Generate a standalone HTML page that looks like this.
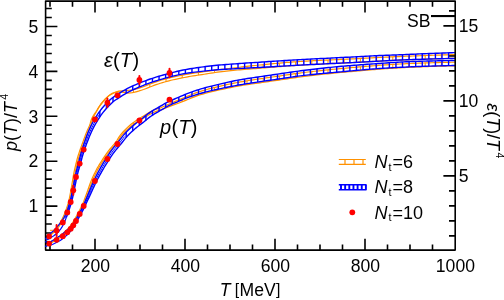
<!DOCTYPE html>
<html><head><meta charset="utf-8"><title>EoS</title>
<style>html,body{margin:0;padding:0;background:#fff}body{width:504px;height:300px;overflow:hidden;font-family:"Liberation Sans",sans-serif}</style>
</head><body>
<svg width="504" height="300" viewBox="0 0 504 300" style="display:block;will-change:transform">
<rect width="504" height="300" fill="#fff"/>
<defs><clipPath id="cp"><rect x="45.6" y="1.1" width="409.59999999999997" height="249.0"/></clipPath></defs>
<path d="M50 250.1v-5.6M50 1.1v5.6M72.5 250.1v-5.6M72.5 1.1v5.6M95 250.1v-11.3M95 1.1v11.3M117.5 250.1v-5.6M117.5 1.1v5.6M140 250.1v-5.6M140 1.1v5.6M162.5 250.1v-5.6M162.5 1.1v5.6M185 250.1v-11.3M185 1.1v11.3M207.5 250.1v-5.6M207.5 1.1v5.6M230 250.1v-5.6M230 1.1v5.6M252.5 250.1v-5.6M252.5 1.1v5.6M275 250.1v-11.3M275 1.1v11.3M297.5 250.1v-5.6M297.5 1.1v5.6M320 250.1v-5.6M320 1.1v5.6M342.5 250.1v-5.6M342.5 1.1v5.6M365 250.1v-11.3M365 1.1v11.3M387.5 250.1v-5.6M387.5 1.1v5.6M410 250.1v-5.6M410 1.1v5.6M432.5 250.1v-5.6M432.5 1.1v5.6M45.6 242.02h6.2M45.6 233.04h6.2M45.6 224.06h6.2M45.6 215.08h6.2M45.6 206.1h11.8M45.6 197.12h6.2M45.6 188.14h6.2M45.6 179.16h6.2M45.6 170.18h6.2M45.6 161.2h11.8M45.6 152.22h6.2M45.6 143.24h6.2M45.6 134.26h6.2M45.6 125.28h6.2M45.6 116.3h11.8M45.6 107.32h6.2M45.6 98.34h6.2M45.6 89.36h6.2M45.6 80.38h6.2M45.6 71.4h11.8M45.6 62.42h6.2M45.6 53.44h6.2M45.6 44.46h6.2M45.6 35.48h6.2M45.6 26.5h11.8M45.6 17.52h6.2M45.6 8.54h6.2M455.2 235.9h-6.2M455.2 220.9h-6.2M455.2 205.9h-6.2M455.2 190.9h-6.2M455.2 175.9h-11.8M455.2 160.9h-6.2M455.2 145.9h-6.2M455.2 130.9h-6.2M455.2 115.9h-6.2M455.2 100.9h-11.8M455.2 85.9h-6.2M455.2 70.9h-6.2M455.2 55.9h-6.2M455.2 40.9h-6.2M455.2 25.9h-11.8M455.2 10.9h-6.2" stroke="#000" stroke-width="1.6" fill="none"/>
<g clip-path="url(#cp)">
<path d="M48.13 235.25 L49.94 233.96 L51.67 232.58 L53.33 231.1 L54.9 229.54 L56.38 227.88 L57.76 226.15 L59.05 224.34 L60.24 222.47 L61.33 220.53 L62.34 218.54 L63.29 216.52 L64.19 214.47 L65.02 212.4 L65.81 210.3 L66.57 208.19 L67.27 206.07 L67.93 203.93 L68.54 201.77 L69.1 199.61 L69.57 197.43 L70 195.23 L70.39 193.02 L70.76 190.8 L71.16 188.58 L71.57 186.36 L71.96 184.15 L72.33 181.94 L72.67 179.72 L73.03 177.49 L73.41 175.26 L73.84 173.03 L74.29 170.82 L74.8 168.61 L75.33 166.42 L75.86 164.24 L76.36 162.05 L76.91 159.84 L77.52 157.66 L78.17 155.49 L78.87 153.34 L79.58 151.2 L80.33 149.06 L81.09 146.94 L81.87 144.82 L82.64 142.72 L83.39 140.59 L84.16 138.47 L84.94 136.36 L85.74 134.24 L86.58 132.14 L87.47 130.06 L88.44 127.99 L89.34 126 L90.06 123.91 L90.7 121.74 L91.38 119.56 L92.26 117.46 L93.38 115.48 L94.65 113.59 L95.94 111.72 L97.14 109.82 L98.28 107.87 L99.48 105.96 L100.78 104.11 L102.17 102.33 L103.62 100.6 L105.15 98.93 L106.76 97.35 L108.46 95.85 L110.3 94.53 L112.26 93.4 L114.35 92.5 L116.49 91.71 L118.72 91.05 L121 90.93 L123.27 90.81 L125.53 90.58 L127.75 90.33 L129.83 90.19 L132.01 89.9 L134.09 89.47 L136.26 88.92 L138.38 88.32 L140.51 87.66 L142.61 86.96 L144.68 86.2 L146.76 85.37 L148.85 84.53 L150.96 83.69 L153.11 82.89 L155.25 82.15 L157.39 81.43 L159.55 80.73 L161.72 80.05 L163.9 79.4 L166.09 78.8 L168.29 78.24 L170.5 77.7 L172.71 77.19 L174.92 76.71 L177.13 76.24 L179.34 75.78 L181.55 75.33 L183.77 74.89 L186 74.47 L188.23 74.08 L190.46 73.7 L192.7 73.35 L194.93 73.02 L197.16 72.7 L199.39 72.38 L201.62 72.06 L203.84 71.75 L206.07 71.43 L208.31 71.12 L210.54 70.81 L212.77 70.5 L215.01 70.21 L217.25 69.92 L219.5 69.65 L221.73 69.36 L223.97 69.07 L226.21 68.79 L228.45 68.52 L230.69 68.25 L232.93 67.99 L235.17 67.74 L237.41 67.48 L239.65 67.23 L241.89 66.97 L244.12 66.72 L246.36 66.46 L248.61 66.21 L250.85 65.97 L253.09 65.72 L255.33 65.48 L257.57 65.25 L259.81 65.01 L262.05 64.8 L264.29 64.58 L266.53 64.36 L268.78 64.15 L271.02 63.93 L273.26 63.71 L275.5 63.5 L277.75 63.29 L279.99 63.08 L282.24 62.87 L284.49 62.67 L286.73 62.47 L288.98 62.28 L291.23 62.1 L293.48 61.94 L295.73 61.78 L297.98 61.63 L300.24 61.48 L302.49 61.34 L304.74 61.21 L306.99 61.08 L309.24 60.96 L311.49 60.84 L313.74 60.72 L315.99 60.6 L318.24 60.49 L320.49 60.38 L322.74 60.27 L325 60.17 L327.25 60.06 L329.5 59.96 L331.75 59.86 L334 59.75 L336.25 59.65 L338.5 59.55 L340.74 59.44 L342.99 59.34 L345.24 59.23 L347.49 59.12 L349.74 59.01 L351.98 58.9 L354.23 58.78 L356.48 58.67 L358.73 58.55 L360.97 58.43 L363.22 58.31 L365.47 58.19 L367.72 58.07 L369.97 57.96 L372.22 57.84 L374.47 57.72 L376.72 57.6 L378.97 57.49 L381.22 57.37 L383.47 57.26 L385.72 57.15 L387.97 57.04 L390.22 56.93 L392.47 56.83 L394.72 56.72 L396.98 56.63 L399.23 56.53 L401.48 56.44 L403.73 56.35 L405.98 56.26 L408.23 56.17 L410.48 56.08 L412.73 55.99 L414.98 55.91 L417.23 55.82 L419.49 55.74 L421.74 55.65 L423.99 55.57 L426.24 55.49 L428.49 55.41 L430.74 55.34 L432.99 55.26 L435.25 55.19 L437.5 55.11 L439.75 55.04 L442 54.97 L444.25 54.9 L446.51 54.84 L448.76 54.77 L451.01 54.71 L453.26 54.65 L454.95 54.6" fill="none" stroke="#ff9100" stroke-width="1.2"/><path d="M48.8 236.24 L50.66 234.92 L52.45 233.5 L54.15 231.98 L55.77 230.36 L57.3 228.66 L58.72 226.87 L60.04 225.01 L61.27 223.08 L62.39 221.09 L63.42 219.07 L64.38 217.01 L65.29 214.94 L66.14 212.83 L66.94 210.72 L67.7 208.58 L68.41 206.43 L69.08 204.27 L69.7 202.09 L70.26 199.89 L70.75 197.67 L71.18 195.45 L71.57 193.22 L71.94 191 L72.34 188.79 L72.75 186.58 L73.15 184.36 L73.52 182.13 L73.86 179.9 L74.21 177.68 L74.59 175.47 L75.01 173.27 L75.47 171.07 L75.96 168.89 L76.5 166.71 L77.03 164.51 L77.53 162.31 L78.07 160.15 L78.67 157.99 L79.32 155.85 L80 153.71 L80.72 151.59 L81.46 149.46 L82.22 147.35 L83 145.24 L83.77 143.12 L84.52 141 L85.29 138.88 L86.06 136.77 L86.86 134.68 L87.69 132.6 L88.57 130.54 L89.52 128.53 L90.47 126.42 L91.14 124.22 L91.7 122.01 L92.3 119.86 L93.04 117.82 L94.01 115.85 L95.13 113.9 L96.29 111.94 L97.4 109.97 L98.54 108.02 L99.73 106.12 L101.02 104.29 L102.4 102.52 L103.84 100.8 L105.36 99.14 L106.96 97.57 L108.65 96.09 L110.46 94.78 L112.4 93.67 L114.45 92.78 L116.61 92.07 L118.76 91.76 L120.95 91.98 L123.2 92.34 L125.46 92.71 L127.74 93.06 L130.15 92.95 L132.44 92.64 L134.76 92.14 L136.96 91.56 L139.17 90.93 L141.34 90.24 L143.51 89.51 L145.65 88.71 L147.76 87.87 L149.85 87.02 L151.93 86.19 L154 85.42 L156.11 84.69 L158.24 83.97 L160.37 83.27 L162.5 82.6 L164.63 81.96 L166.78 81.37 L168.93 80.81 L171.11 80.28 L173.29 79.78 L175.48 79.29 L177.67 78.82 L179.87 78.36 L182.07 77.91 L184.27 77.47 L186.47 77.05 L188.68 76.66 L190.88 76.28 L193.09 75.93 L195.31 75.6 L197.54 75.27 L199.77 74.95 L202 74.6 L204.22 74.24 L206.45 73.88 L208.67 73.52 L210.89 73.17 L213.11 72.82 L215.33 72.48 L217.55 72.15 L219.77 71.84 L222 71.58 L224.24 71.34 L226.47 71.1 L228.71 70.88 L230.95 70.66 L233.19 70.44 L235.43 70.23 L237.67 70.02 L239.91 69.81 L242.15 69.62 L244.39 69.43 L246.63 69.24 L248.88 69.06 L251.12 68.88 L253.36 68.71 L255.61 68.53 L257.85 68.36 L260.09 68.2 L262.34 68.01 L264.58 67.83 L266.83 67.64 L269.07 67.45 L271.32 67.26 L273.56 67.08 L275.8 66.9 L278.05 66.71 L280.29 66.53 L282.53 66.36 L284.77 66.19 L287.02 66.02 L289.26 65.86 L291.5 65.69 L293.74 65.53 L295.98 65.37 L298.22 65.22 L300.46 65.07 L302.7 64.94 L304.95 64.8 L307.19 64.68 L309.44 64.55 L311.68 64.43 L313.93 64.31 L316.17 64.2 L318.42 64.09 L320.67 63.98 L322.92 63.87 L325.16 63.76 L327.41 63.66 L329.66 63.56 L331.91 63.45 L334.16 63.35 L336.41 63.25 L338.66 63.14 L340.91 63.04 L343.16 62.93 L345.41 62.83 L347.66 62.72 L349.91 62.61 L352.17 62.49 L354.42 62.38 L356.67 62.26 L358.91 62.14 L361.16 62.03 L363.41 61.91 L365.66 61.79 L367.91 61.67 L370.16 61.55 L372.41 61.43 L374.66 61.31 L376.9 61.2 L379.15 61.08 L381.4 60.97 L383.65 60.85 L385.89 60.74 L388.14 60.63 L390.39 60.53 L392.64 60.42 L394.88 60.32 L397.13 60.22 L399.38 60.13 L401.63 60.04 L403.87 59.94 L406.12 59.85 L408.37 59.76 L410.62 59.68 L412.87 59.59 L415.12 59.5 L417.37 59.42 L419.62 59.33 L421.87 59.25 L424.12 59.17 L426.37 59.09 L428.62 59.01 L430.86 58.94 L433.11 58.86 L435.36 58.78 L437.61 58.71 L439.86 58.64 L442.11 58.57 L444.36 58.5 L446.61 58.43 L448.86 58.37 L451.11 58.31 L453.36 58.24 L455.05 58.2" fill="none" stroke="#ff9100" stroke-width="1.2"/><path d="M101.2 103.55V104.05M117.4 91.37V91.89M133.6 89.59V92.42M149.8 84.15V87.04M166 78.82V81.58M182.2 75.2V77.88M198.4 72.52V75.15M214.6 70.26V72.59M230.8 68.24V70.67M247 66.39V69.21M263.2 64.68V67.94M279.4 63.13V66.61M295.6 61.79V65.4M311.8 60.82V64.42M328 60.03V63.63M344.2 59.28V62.88M360.4 58.46V62.07M376.6 57.61V61.21M392.8 56.81V60.41M409 56.14V59.74M425.2 55.53V59.13M441.4 54.99V58.59" fill="none" stroke="#ff9100" stroke-width="1"/>
<path d="M48.49 242.78 L50.4 241.87 L52.25 240.87 L54.08 239.78 L55.9 238.68 L57.69 237.54 L59.44 236.35 L61.12 235.08 L62.74 233.73 L64.29 232.29 L65.82 230.81 L67.33 229.32 L68.76 227.76 L70.12 226.15 L71.4 224.48 L72.58 222.73 L73.71 220.94 L74.73 219.11 L75.73 217.19 L76.81 215.34 L77.86 213.49 L78.87 211.62 L79.83 209.72 L80.77 207.81 L81.7 205.89 L82.62 203.96 L83.5 202.04 L84.25 200.07 L84.98 198.06 L85.72 196.05 L86.45 194.05 L87.17 192.04 L87.86 190.02 L88.54 187.99 L89.24 185.97 L89.95 183.95 L90.69 181.93 L91.49 179.92 L92.35 177.95 L93.26 176 L94.19 174.07 L95.14 172.15 L96.11 170.24 L97.09 168.32 L98.17 166.44 L99.29 164.61 L100.42 162.79 L101.57 160.98 L102.73 159.18 L103.9 157.39 L105.09 155.61 L106.3 153.83 L107.54 152.08 L108.83 150.35 L110.2 148.67 L111.6 147.04 L113.01 145.44 L114.41 143.83 L115.77 142.2 L116.94 140.51 L118.01 138.67 L119.11 136.79 L120.35 135.01 L121.72 133.34 L123.19 131.73 L124.71 130.17 L126.23 128.65 L127.79 127.17 L129.39 125.72 L131.05 124.32 L132.74 122.97 L134.49 121.69 L136.28 120.48 L138.11 119.33 L139.92 118.2 L141.75 117.07 L143.59 115.97 L145.39 114.86 L147.13 113.69 L148.96 112.47 L150.9 111.41 L152.89 110.47 L154.92 109.64 L157 108.95 L159.02 108.32 L160.98 107.6 L162.93 106.8 L164.88 105.96 L166.83 105.07 L168.79 104.18 L170.76 103.33 L172.73 102.48 L174.7 101.63 L176.66 100.79 L178.63 99.95 L180.6 99.14 L182.57 98.33 L184.54 97.5 L186.52 96.67 L188.5 95.83 L190.49 95.01 L192.49 94.21 L194.51 93.43 L196.54 92.68 L198.59 91.98 L200.64 91.32 L202.7 90.69 L204.77 90.09 L206.85 89.51 L208.93 88.95 L211.02 88.41 L213.1 87.88 L215.19 87.37 L217.28 86.86 L219.36 86.37 L221.45 85.88 L223.54 85.4 L225.64 84.93 L227.73 84.46 L229.83 84.01 L231.94 83.57 L234.04 83.14 L236.15 82.73 L238.26 82.32 L240.38 81.93 L242.5 81.56 L244.61 81.2 L246.73 80.85 L248.85 80.51 L250.97 80.17 L253.08 79.85 L255.2 79.52 L257.31 79.19 L259.42 78.87 L261.54 78.55 L263.66 78.24 L265.78 77.93 L267.89 77.63 L270.01 77.32 L272.13 77.02 L274.25 76.72 L276.36 76.42 L278.48 76.11 L280.59 75.81 L282.7 75.5 L284.81 75.18 L286.93 74.87 L289.04 74.55 L291.16 74.24 L293.28 73.93 L295.41 73.63 L297.54 73.34 L299.67 73.06 L301.79 72.78 L303.92 72.52 L306.04 72.26 L308.17 72 L310.3 71.75 L312.43 71.51 L314.56 71.27 L316.69 71.03 L318.82 70.79 L320.94 70.56 L323.07 70.34 L325.2 70.11 L327.33 69.9 L329.46 69.68 L331.59 69.47 L333.73 69.26 L335.86 69.05 L337.99 68.85 L340.12 68.65 L342.25 68.46 L344.38 68.26 L346.51 68.07 L348.64 67.88 L350.77 67.69 L352.9 67.5 L355.04 67.31 L357.17 67.13 L359.3 66.94 L361.43 66.76 L363.57 66.58 L365.7 66.41 L367.83 66.23 L369.97 66.06 L372.1 65.9 L374.24 65.73 L376.37 65.57 L378.5 65.42 L380.64 65.26 L382.77 65.1 L384.91 64.95 L387.04 64.8 L389.18 64.65 L391.32 64.51 L393.46 64.38 L395.6 64.24 L397.74 64.12 L399.88 64 L402.02 63.89 L404.15 63.79 L406.29 63.69 L408.43 63.59 L410.57 63.49 L412.71 63.4 L414.85 63.31 L416.99 63.23 L419.13 63.15 L421.27 63.07 L423.41 63 L425.55 62.93 L427.69 62.86 L429.83 62.8 L431.97 62.73 L434.1 62.67 L436.24 62.61 L438.38 62.55 L440.52 62.5 L442.66 62.45 L444.8 62.4 L446.94 62.35 L449.08 62.3 L451.22 62.26 L453.36 62.23 L454.97 62.2" fill="none" stroke="#ff9100" stroke-width="1.2"/><path d="M48.99 243.87 L50.94 242.94 L52.85 241.91 L54.7 240.82 L56.54 239.7 L58.35 238.55 L60.14 237.33 L61.87 236.02 L63.53 234.63 L65.12 233.16 L66.66 231.67 L68.19 230.15 L69.66 228.56 L71.06 226.9 L72.37 225.18 L73.59 223.39 L74.74 221.56 L75.8 219.66 L76.78 217.78 L77.85 215.94 L78.91 214.07 L79.94 212.18 L80.91 210.26 L81.85 208.33 L82.78 206.4 L83.7 204.47 L84.6 202.5 L85.38 200.48 L86.11 198.47 L86.84 196.46 L87.58 194.45 L88.3 192.43 L88.99 190.4 L89.68 188.38 L90.37 186.36 L91.08 184.35 L91.81 182.35 L92.59 180.39 L93.45 178.44 L94.35 176.52 L95.27 174.6 L96.21 172.68 L97.18 170.78 L98.14 168.89 L99.2 167.06 L100.31 165.24 L101.44 163.43 L102.58 161.63 L103.74 159.84 L104.91 158.05 L106.09 156.28 L107.28 154.51 L108.51 152.78 L109.78 151.09 L111.12 149.44 L112.5 147.84 L113.91 146.23 L115.32 144.6 L116.71 142.95 L117.96 141.14 L119.06 139.26 L120.12 137.43 L121.3 135.74 L122.63 134.12 L124.06 132.55 L125.55 131.03 L127.11 129.57 L128.68 128.16 L130.3 126.78 L131.96 125.46 L133.65 124.2 L135.38 123.01 L137.17 121.9 L139 120.82 L140.86 119.74 L142.69 118.65 L144.54 117.58 L146.39 116.47 L148.22 115.27 L149.96 114.15 L151.78 113.19 L153.69 112.32 L155.62 111.56 L157.6 110.94 L159.68 110.32 L161.74 109.6 L163.76 108.81 L165.75 108 L167.74 107.2 L169.72 106.43 L171.71 105.67 L173.71 104.93 L175.71 104.18 L177.72 103.44 L179.72 102.7 L181.73 101.93 L183.73 101.13 L185.71 100.32 L187.7 99.5 L189.68 98.69 L191.65 97.9 L193.63 97.12 L195.61 96.38 L197.59 95.67 L199.57 95.01 L201.58 94.39 L203.61 93.81 L205.65 93.24 L207.7 92.7 L209.76 92.17 L211.83 91.66 L213.9 91.17 L215.98 90.68 L218.06 90.21 L220.14 89.74 L222.22 89.29 L224.3 88.83 L226.39 88.39 L228.47 87.96 L230.56 87.54 L232.65 87.13 L234.74 86.74 L236.83 86.35 L238.93 85.98 L241.02 85.62 L243.12 85.28 L245.22 84.95 L247.32 84.63 L249.43 84.32 L251.54 84.02 L253.66 83.72 L255.77 83.42 L257.89 83.12 L260.01 82.82 L262.12 82.5 L264.24 82.19 L266.35 81.88 L268.46 81.57 L270.58 81.27 L272.69 80.96 L274.81 80.66 L276.93 80.35 L279.04 80.05 L281.16 79.74 L283.28 79.42 L285.4 79.1 L287.52 78.79 L289.63 78.47 L291.74 78.15 L293.85 77.84 L295.96 77.54 L298.07 77.25 L300.17 76.97 L302.29 76.69 L304.4 76.43 L306.52 76.16 L308.64 75.91 L310.76 75.65 L312.88 75.41 L315 75.16 L317.12 74.92 L319.24 74.69 L321.36 74.45 L323.49 74.23 L325.61 74 L327.73 73.78 L329.86 73.56 L331.98 73.35 L334.1 73.14 L336.23 72.93 L338.35 72.72 L340.48 72.52 L342.61 72.32 L344.73 72.12 L346.86 71.93 L348.99 71.74 L351.12 71.54 L353.25 71.35 L355.38 71.16 L357.5 70.97 L359.63 70.79 L361.76 70.6 L363.89 70.42 L366.02 70.24 L368.14 70.07 L370.27 69.89 L372.4 69.72 L374.53 69.56 L376.66 69.4 L378.79 69.24 L380.92 69.08 L383.05 68.92 L385.18 68.76 L387.31 68.61 L389.44 68.46 L391.57 68.32 L393.7 68.18 L395.83 68.04 L397.95 67.92 L400.08 67.8 L402.21 67.68 L404.35 67.57 L406.48 67.46 L408.61 67.35 L410.74 67.25 L412.88 67.15 L415.01 67.05 L417.14 66.96 L419.27 66.87 L421.41 66.79 L423.54 66.71 L425.67 66.63 L427.81 66.56 L429.94 66.48 L432.08 66.41 L434.21 66.34 L436.35 66.28 L438.48 66.21 L440.62 66.15 L442.76 66.09 L444.89 66.03 L447.03 65.98 L449.16 65.92 L451.29 65.88 L453.43 65.83 L455.03 65.8" fill="none" stroke="#ff9100" stroke-width="1.2"/><path d="M133.6 122.33V124.24M149.8 111.99V114.24M166 105.45V107.9M182.2 98.48V101.74M198.4 92.04V95.4M214.6 87.51V91M230.8 83.81V87.49M247 80.8V84.68M263.2 78.31V82.34M279.4 75.98V79.99M295.6 73.6V77.59M311.8 71.58V75.53M328 69.83V73.75M344.2 68.28V72.17M360.4 66.85V70.72M376.6 65.56V69.4M392.8 64.42V68.24M409 63.56V67.33M425.2 62.94V66.65M441.4 62.48V66.13" fill="none" stroke="#ff9100" stroke-width="1"/>
<path d="M44.8 238.15 L46.54 236.71 L48.25 235.25 L50 233.83 L51.65 232.46 L53.22 231 L54.7 229.46 L56.17 227.92 L57.65 226.35 L59.05 224.7 L60.36 222.96 L61.64 221.21 L62.84 219.36 L63.96 217.43 L64.95 215.43 L65.88 213.39 L66.1 212.88" fill="none" stroke="#0000ff" stroke-width="1.2"/><path d="M66.1 212.88 L66.99 210.81 L67.77 208.71 L68.49 206.59 L69.16 204.45 L69.79 202.3 L70.36 200.13 L70.9 197.95 L71.4 195.77 L71.85 193.57 L72.28 191.35 L72.72 189.13 L73.18 186.92 L73.63 184.71 L74.04 182.5 L74.44 180.28 L74.84 178.05 L75.3 175.81 L75.8 173.6 L76.32 171.39 L76.88 169.18 L77.49 166.99 L78.09 164.82 L78.65 162.66 L79.17 160.48 L79.68 158.27 L80.25 156.05 L80.86 153.86 L81.49 151.68 L82.15 149.5 L82.83 147.34 L83.54 145.18 L84.26 143.03 L85.01 140.88 L85.77 138.75 L86.54 136.61 L87.33 134.48 L88.16 132.35 L89.03 130.23 L89.95 128.14 L90.93 126.06 L91.95 124 L93.01 121.97 L94.11 119.96 L95.26 117.98 L96.47 116.03 L97.73 114.1 L99.05 112.2 L100.42 110.34 L101.86 108.53 L103.36 106.77 L104.91 105.06 L106.47 103.39 L108.07 101.74 L109.75 100.11 L111.54 98.56 L113.43 97.14 L115.34 95.84 L117.22 94.57 L119.14 93.33 L121.08 92.11 L123.06 90.94 L125.06 89.81 L127.09 88.73 L129.13 87.69 L131.19 86.69 L133.27 85.73 L135.36 84.8 L137.46 83.9 L139.57 83.03 L141.68 82.19 L143.8 81.36 L145.93 80.55 L148.07 79.77 L150.23 79.02 L152.39 78.29 L154.55 77.59 L156.72 76.91 L158.9 76.25 L161.07 75.6 L163.26 74.97 L165.44 74.36 L167.64 73.76 L169.84 73.18 L172.03 72.62 L174.24 72.07 L176.45 71.51 L178.68 70.99 L180.91 70.5 L183.14 70.05 L185.38 69.61 L187.62 69.2 L189.87 68.81 L192.11 68.44 L194.36 68.09 L196.61 67.75 L198.86 67.44 L201.11 67.14 L203.35 66.85 L205.6 66.56 L207.85 66.29 L210.1 66.02 L212.36 65.76 L214.62 65.52 L216.88 65.29 L219.14 65.07 L221.4 64.87 L223.66 64.68 L225.92 64.5 L228.18 64.33 L230.44 64.17 L232.7 64.01 L234.95 63.85 L237.2 63.69 L239.45 63.53 L241.71 63.38 L243.96 63.22 L246.22 63.07 L248.47 62.92 L250.73 62.77 L252.98 62.63 L255.23 62.48 L257.48 62.33 L259.74 62.18 L261.99 62.03 L264.24 61.88 L266.49 61.72 L268.75 61.57 L271 61.42 L273.25 61.28 L275.51 61.14 L277.76 60.99 L280.01 60.85 L282.27 60.71 L284.52 60.57 L286.78 60.43 L289.04 60.3 L291.29 60.16 L293.55 60.02 L295.81 59.89 L298.06 59.76 L300.32 59.63 L302.58 59.51 L304.83 59.39 L307.09 59.26 L309.35 59.14 L311.6 59.02 L313.86 58.91 L316.12 58.79 L318.37 58.67 L320.63 58.56 L322.89 58.44 L325.14 58.33 L327.4 58.22 L329.65 58.11 L331.91 57.99 L334.16 57.88 L336.42 57.77 L338.68 57.66 L340.93 57.54 L343.18 57.43 L345.44 57.32 L347.69 57.21 L349.95 57.1 L352.2 56.99 L354.46 56.87 L356.71 56.75 L358.96 56.64 L361.22 56.52 L363.47 56.4 L365.73 56.28 L367.98 56.16 L370.24 56.04 L372.49 55.92 L374.75 55.8 L377.01 55.69 L379.26 55.57 L381.52 55.47 L383.78 55.38 L386.04 55.29 L388.3 55.2 L390.56 55.12 L392.82 55.04 L395.08 54.96 L397.34 54.88 L399.6 54.81 L401.86 54.71 L404.11 54.61 L406.37 54.51 L408.63 54.4 L410.88 54.3 L413.14 54.2 L415.4 54.11 L417.66 54.01 L419.91 53.91 L422.17 53.82 L424.43 53.72 L426.69 53.63 L428.95 53.54 L431.2 53.45 L433.46 53.36 L435.72 53.28 L437.98 53.19 L440.24 53.11 L442.5 53.02 L444.76 52.94 L447.02 52.86 L449.27 52.79 L451.53 52.71 L453.79 52.64 L454.92 52.6" fill="none" stroke="#0000ff" stroke-width="1.4"/><path d="M46.2 240.25 L48.21 239.16 L50.21 238.05 L52.16 236.87 L54.11 235.53 L55.98 234.06 L57.77 232.48 L59.37 230.71 L60.77 228.79 L62.06 226.82 L63.27 224.79 L64.28 222.67 L65.17 220.51 L65.98 218.35 L66.19 217.82" fill="none" stroke="#0000ff" stroke-width="1.2"/><path d="M66.19 217.82 L67.01 215.68 L67.79 213.54 L68.53 211.39 L69.28 209.24 L70.01 207.08 L70.69 204.91 L71.33 202.73 L71.91 200.53 L72.46 198.32 L72.96 196.1 L73.42 193.88 L73.85 191.66 L74.29 189.45 L74.75 187.25 L75.22 185.03 L75.68 182.81 L76.1 180.59 L76.54 178.38 L77.02 176.2 L77.55 174.02 L78.11 171.84 L78.7 169.68 L79.34 167.53 L80 165.36 L80.61 163.16 L81.17 160.96 L81.72 158.78 L82.32 156.63 L82.96 154.48 L83.64 152.34 L84.34 150.21 L85.07 148.08 L85.82 145.97 L86.59 143.86 L87.38 141.76 L88.2 139.66 L89.02 137.56 L89.86 135.48 L90.73 133.42 L91.64 131.39 L92.6 129.39 L93.61 127.41 L94.68 125.45 L95.78 123.52 L96.93 121.6 L98.08 119.71 L99.27 117.82 L100.5 115.97 L101.77 114.16 L103.08 112.4 L104.46 110.7 L105.91 109.03 L107.42 107.39 L108.96 105.78 L110.52 104.19 L112.1 102.68 L113.72 101.3 L115.46 100.03 L117.3 98.8 L119.18 97.57 L121.07 96.36 L122.96 95.19 L124.86 94.05 L126.79 92.97 L128.75 91.92 L130.73 90.91 L132.74 89.94 L134.76 89.01 L136.8 88.1 L138.85 87.22 L140.92 86.37 L143 85.53 L145.09 84.72 L147.18 83.93 L149.28 83.16 L151.39 82.42 L153.51 81.71 L155.64 81.02 L157.79 80.35 L159.93 79.7 L162.09 79.06 L164.24 78.43 L166.4 77.83 L168.57 77.24 L170.74 76.67 L172.92 76.11 L175.1 75.56 L177.28 75.06 L179.45 74.6 L181.64 74.18 L183.84 73.78 L186.05 73.41 L188.26 73.06 L190.48 72.73 L192.7 72.42 L194.93 72.12 L197.15 71.84 L199.38 71.58 L201.61 71.33 L203.85 71.09 L206.09 70.85 L208.33 70.62 L210.57 70.4 L212.81 70.19 L215.04 69.99 L217.28 69.81 L219.52 69.64 L221.75 69.49 L223.99 69.34 L226.24 69.21 L228.49 69.09 L230.74 68.97 L232.99 68.86 L235.24 68.74 L237.5 68.63 L239.76 68.52 L242.02 68.39 L244.27 68.27 L246.52 68.15 L248.78 68.03 L251.03 67.91 L253.28 67.79 L255.54 67.67 L257.8 67.55 L260.05 67.43 L262.31 67.31 L264.56 67.19 L266.82 67.07 L269.08 66.94 L271.33 66.81 L273.59 66.68 L275.84 66.54 L278.09 66.41 L280.35 66.27 L282.6 66.14 L284.85 66 L287.11 65.87 L289.36 65.74 L291.61 65.61 L293.86 65.48 L296.12 65.36 L298.37 65.23 L300.62 65.11 L302.87 65 L305.12 64.88 L307.38 64.76 L309.63 64.65 L311.89 64.54 L314.14 64.43 L316.39 64.31 L318.65 64.21 L320.9 64.1 L323.16 63.99 L325.41 63.88 L327.67 63.78 L329.92 63.67 L332.18 63.56 L334.43 63.46 L336.69 63.35 L338.95 63.25 L341.2 63.14 L343.46 63.03 L345.72 62.92 L347.97 62.8 L350.23 62.69 L352.49 62.58 L354.74 62.46 L357 62.35 L359.26 62.23 L361.51 62.11 L363.77 61.99 L366.02 61.87 L368.28 61.75 L370.53 61.63 L372.79 61.51 L375.04 61.4 L377.3 61.28 L379.55 61.16 L381.8 61.03 L384.05 60.89 L386.31 60.76 L388.56 60.63 L390.81 60.5 L393.06 60.37 L395.31 60.25 L397.56 60.13 L399.81 60.01 L402.07 59.93 L404.32 59.85 L406.58 59.77 L408.84 59.69 L411.09 59.62 L413.35 59.54 L415.6 59.47 L417.86 59.4 L420.11 59.33 L422.37 59.26 L424.63 59.19 L426.88 59.12 L429.14 59.05 L431.39 58.99 L433.65 58.92 L435.9 58.86 L438.16 58.8 L440.41 58.74 L442.67 58.69 L444.93 58.63 L447.18 58.58 L449.44 58.52 L451.69 58.47 L453.95 58.42 L455.08 58.4" fill="none" stroke="#0000ff" stroke-width="1.4"/><path d="M64.73 218.4 L65.66 216.34 L66.53 214.26 L67.36 212.15 L68.15 210.04 L68.9 207.91 L69.6 205.76 L70.25 203.6 L70.85 201.42 L71.41 199.24 L71.93 197.04 L72.41 194.83 L72.85 192.61 L73.28 190.4 L73.74 188.19 L74.2 185.98 L74.65 183.76 L75.07 181.54 L75.48 179.32 L75.92 177.11 L76.41 174.91 L76.94 172.71 L77.49 170.52 L78.1 168.34 L78.73 166.18 L79.35 164 L79.9 161.81 L80.43 159.62 L80.98 157.43 L81.59 155.25 L82.23 153.09 L82.9 150.93 L83.59 148.78 L84.31 146.64 L85.05 144.51 L85.81 142.38 L86.59 140.26 L87.38 138.14 L88.19 136.03 L89.02 133.93 L89.89 131.84 L90.8 129.78 L91.77 127.75 L92.79 125.73 L93.85 123.73 L94.95 121.76 L96.09 119.81 L97.27 117.88 L98.49 115.97 L99.76 114.1" fill="none" stroke="#0000ff" stroke-width="1.0"/><path d="M99.84 111.11V116.95M106.42 103.45V108.47M113 97.45V101.9M119.58 93.04V97.31M126.16 89.22V93.31M132.74 85.97V89.94M139.32 83.13V87.03M145.9 80.56V84.41M152.48 78.26V82.06M159.06 76.2V79.96M165.64 74.3V78.04M172.22 72.57V76.29M178.8 70.96V74.74M185.38 69.61V73.52M191.96 68.47V72.52M198.54 67.48V71.68M205.12 66.62V70.95M211.7 65.84V70.29M218.28 65.15V69.73M224.86 64.58V69.29M231.44 64.1V68.93M238.02 63.64V68.61M244.6 63.18V68.25M251.18 62.74V67.9M257.76 62.31V67.56M264.34 61.87V67.2M270.92 61.43V66.84M277.5 61.01V66.44M284.08 60.6V66.05M290.66 60.2V65.67M297.24 59.81V65.3M303.82 59.44V64.95M310.4 59.09V64.61M316.98 58.75V64.29M323.56 58.41V63.97M330.14 58.08V63.66M336.72 57.75V63.35M343.3 57.43V63.03M349.88 57.1V62.71M356.46 56.77V62.37M363.04 56.42V62.03M369.62 56.07V61.68M376.2 55.73V61.33M382.78 55.42V60.97M389.36 55.16V60.58M395.94 54.93V60.22M402.52 54.68V59.91M409.1 54.38V59.69M415.68 54.09V59.47M422.26 53.81V59.26M428.84 53.54V59.06M435.42 53.29V58.88M442 53.04V58.7M448.58 52.81V58.54" fill="none" stroke="#0000ff" stroke-width="1.4"/>
<path d="M45.34 243.58 L47.34 243.11 L49.24 242.48 L51 241.62 L52.83 240.6 L54.57 239.49 L56.35 238.31 L58.09 237.11 L59.83 235.94 L61.54 234.8 L63.17 233.56 L64.73 232.23 L66.29 230.78 L67.88 229.37 L69.41 227.95 L70.87 226.45 L72.25 224.88" fill="none" stroke="#0000ff" stroke-width="1.2"/><path d="M72.25 224.88 L73.51 223.21 L74.68 221.45 L75.77 219.65 L76.81 217.76 L77.9 215.86 L78.98 214.01 L79.99 212.15 L80.97 210.24 L81.91 208.32 L82.84 206.39 L83.76 204.45 L84.66 202.5 L85.52 200.54 L86.36 198.56 L87.2 196.58 L88.03 194.59 L88.86 192.61 L89.67 190.62 L90.49 188.63 L91.31 186.63 L92.15 184.64 L93.02 182.66 L93.92 180.68 L94.84 178.72 L95.8 176.77 L96.77 174.83 L97.77 172.91 L98.78 170.99 L99.83 169.1 L100.89 167.21 L101.97 165.33 L103.07 163.47 L104.19 161.61 L105.32 159.76 L106.47 157.93 L107.62 156.1 L108.8 154.28 L110.01 152.46 L111.26 150.66 L112.58 148.89 L113.96 147.18 L115.35 145.51 L116.72 143.87 L118.03 142.22 L119.34 140.52 L120.64 138.8 L121.97 137.08 L123.36 135.37 L124.81 133.7 L126.32 132.1 L127.86 130.54 L129.45 129.01 L131.06 127.53 L132.69 126.08 L134.37 124.65 L136.08 123.28 L137.8 121.96 L139.5 120.65 L141.17 119.34 L142.8 117.99 L144.45 116.6 L146.14 115.2 L147.89 113.84 L149.71 112.56 L151.56 111.36 L153.43 110.21 L155.32 109.11 L157.2 108.03 L159.07 106.96 L160.91 105.89 L162.77 104.8 L164.65 103.7 L166.58 102.64 L168.56 101.63 L170.56 100.7 L172.57 99.83 L174.56 98.99 L176.52 98.15 L178.48 97.29 L180.47 96.42 L182.48 95.57 L184.51 94.75 L186.52 93.95 L188.55 93.17 L190.58 92.4 L192.63 91.65 L194.68 90.93 L196.75 90.23 L198.83 89.56 L200.91 88.94 L203 88.33 L205.09 87.75 L207.18 87.19 L209.28 86.64 L211.39 86.11 L213.49 85.59 L215.59 85.08 L217.69 84.58 L219.79 84.09 L221.89 83.6 L224 83.11 L226.11 82.63 L228.22 82.16 L230.33 81.7 L232.45 81.25 L234.57 80.81 L236.7 80.39 L238.83 79.98 L240.96 79.59 L243.1 79.24 L245.24 78.89 L247.38 78.55 L249.51 78.23 L251.65 77.91 L253.78 77.59 L255.91 77.28 L258.04 76.96 L260.16 76.65 L262.3 76.33 L264.43 76.02 L266.56 75.71 L268.69 75.4 L270.83 75.09 L272.96 74.79 L275.09 74.48 L277.22 74.18 L279.34 73.87 L281.47 73.56 L283.59 73.24 L285.72 72.92 L287.84 72.6 L289.98 72.28 L292.11 71.96 L294.25 71.66 L296.4 71.36 L298.54 71.07 L300.69 70.79 L302.83 70.51 L304.97 70.24 L307.12 69.97 L309.26 69.71 L311.4 69.45 L313.54 69.2 L315.69 68.96 L317.83 68.71 L319.98 68.47 L322.12 68.24 L324.26 68.01 L326.41 67.78 L328.55 67.55 L330.7 67.33 L332.84 67.12 L334.99 66.9 L337.13 66.69 L339.28 66.48 L341.43 66.3 L343.57 66.12 L345.72 65.95 L347.87 65.77 L350.02 65.6 L352.16 65.43 L354.31 65.26 L356.46 65.1 L358.61 64.93 L360.75 64.77 L362.9 64.61 L365.05 64.45 L367.2 64.3 L369.36 64.14 L371.51 64 L373.66 63.85 L375.81 63.71 L377.96 63.57 L380.11 63.43 L382.25 63.26 L384.4 63.1 L386.55 62.94 L388.71 62.78 L390.86 62.63 L393.01 62.48 L395.17 62.34 L397.32 62.2 L399.48 62.08 L401.64 61.97 L403.79 61.88 L405.94 61.78 L408.1 61.69 L410.25 61.61 L412.41 61.52 L414.56 61.45 L416.72 61.37 L418.87 61.3 L421.03 61.23 L423.19 61.17 L425.34 61.11 L427.49 61.05 L429.65 60.99 L431.8 60.94 L433.95 60.89 L436.11 60.84 L438.26 60.79 L440.42 60.74 L442.57 60.7 L444.72 60.66 L446.88 60.62 L449.04 60.58 L451.19 60.55 L453.35 60.52 L454.96 60.5" fill="none" stroke="#0000ff" stroke-width="1.4"/><path d="M45.66 246.02 L47.93 245.75 L50.16 245.27 L52.37 244.47 L54.4 243.57 L56.4 242.53 L58.3 241.49 L60.21 240.4 L62.05 239.18 L63.84 237.82 L65.56 236.35 L67.19 234.8 L68.71 233.23 L70.16 231.6 L71.58 229.88 L72.25 229" fill="none" stroke="#0000ff" stroke-width="1.2"/><path d="M72.25 229 L73.55 227.19 L74.75 225.32 L75.87 223.42 L76.93 221.51 L77.9 219.54 L78.84 217.64 L79.92 215.8 L81.01 213.91 L82.03 211.99 L83.01 210.06 L83.97 208.12 L84.91 206.18 L85.83 204.23 L86.74 202.27 L87.66 200.32 L88.58 198.37 L89.49 196.42 L90.41 194.47 L91.31 192.51 L92.21 190.54 L93.1 188.58 L93.97 186.62 L94.87 184.68 L95.78 182.76 L96.73 180.85 L97.71 178.96 L98.71 177.07 L99.74 175.19 L100.79 173.33 L101.85 171.47 L102.91 169.61 L103.99 167.77 L105.09 165.93 L106.21 164.11 L107.34 162.29 L108.49 160.49 L109.65 158.69 L110.83 156.9 L112.02 155.13 L113.23 153.39 L114.48 151.71 L115.78 150.08 L117.16 148.46 L118.57 146.83 L119.98 145.16 L121.35 143.45 L122.69 141.75 L124.02 140.06 L125.35 138.42 L126.7 136.84 L128.11 135.31 L129.58 133.8 L131.1 132.33 L132.65 130.88 L134.23 129.47 L135.82 128.09 L137.45 126.78 L139.14 125.48 L140.85 124.18 L142.58 122.85 L144.3 121.49 L145.97 120.1 L147.62 118.73 L149.27 117.43 L150.92 116.21 L152.64 115.06 L154.42 113.95 L156.25 112.86 L158.1 111.8 L159.98 110.73 L161.86 109.66 L163.73 108.57 L165.58 107.49 L167.42 106.44 L169.27 105.47 L171.13 104.56 L173.06 103.71 L175.02 102.88 L177.02 102.04 L179.02 101.19 L180.99 100.32 L182.95 99.48 L184.9 98.68 L186.88 97.93 L188.89 97.2 L190.91 96.48 L192.93 95.79 L194.95 95.12 L196.98 94.48 L199.01 93.87 L201.04 93.29 L203.09 92.73 L205.15 92.19 L207.22 91.67 L209.29 91.16 L211.38 90.67 L213.47 90.19 L215.56 89.72 L217.65 89.26 L219.75 88.81 L221.85 88.36 L223.95 87.91 L226.05 87.47 L228.15 87.04 L230.25 86.62 L232.35 86.22 L234.45 85.82 L236.56 85.43 L238.66 85.06 L240.76 84.7 L242.86 84.34 L244.97 84 L247.08 83.66 L249.2 83.33 L251.32 83.01 L253.45 82.7 L255.57 82.38 L257.71 82.07 L259.84 81.75 L261.96 81.43 L264.09 81.12 L266.22 80.81 L268.34 80.5 L270.47 80.2 L272.6 79.89 L274.73 79.58 L276.86 79.28 L278.99 78.97 L281.13 78.66 L283.26 78.35 L285.4 78.03 L287.53 77.71 L289.65 77.38 L291.78 77.07 L293.9 76.76 L296.02 76.46 L298.13 76.17 L300.25 75.89 L302.38 75.63 L304.51 75.39 L306.64 75.15 L308.77 74.91 L310.91 74.68 L313.04 74.45 L315.18 74.23 L317.31 74.02 L319.45 73.8 L321.59 73.6 L323.73 73.39 L325.87 73.19 L328 72.99 L330.14 72.79 L332.28 72.6 L334.42 72.41 L336.56 72.23 L338.7 72.04 L340.84 71.86 L342.98 71.65 L345.12 71.45 L347.26 71.25 L349.4 71.05 L351.54 70.86 L353.69 70.66 L355.83 70.47 L357.97 70.27 L360.11 70.08 L362.25 69.9 L364.39 69.71 L366.53 69.53 L368.67 69.35 L370.81 69.17 L372.95 69 L375.1 68.83 L377.24 68.67 L379.38 68.5 L381.53 68.35 L383.68 68.22 L385.82 68.09 L387.96 67.97 L390.11 67.84 L392.25 67.73 L394.39 67.61 L396.53 67.51 L398.67 67.41 L400.82 67.31 L402.96 67.2 L405.11 67.1 L407.25 66.99 L409.4 66.89 L411.54 66.8 L413.69 66.71 L415.84 66.62 L417.98 66.53 L420.13 66.45 L422.27 66.38 L424.42 66.3 L426.57 66.23 L428.72 66.16 L430.87 66.1 L433.02 66.03 L435.16 65.97 L437.31 65.91 L439.46 65.85 L441.61 65.79 L443.76 65.74 L445.91 65.69 L448.05 65.64 L450.2 65.59 L452.35 65.55 L454.5 65.51 L455.04 65.5" fill="none" stroke="#0000ff" stroke-width="1.4"/><path d="M74.12 224.25 L75.27 222.42 L76.35 220.56 L77.34 218.65 L78.36 216.76 L79.46 214.9 L80.51 213.03 L81.5 211.12 L82.47 209.19 L83.41 207.26 L84.34 205.31 L85.25 203.36 L86.14 201.41 L87.02 199.44 L87.9 197.48 L88.77 195.51 L89.65 193.54 L90.5 191.57 L91.36 189.59 L92.21 187.61 L93.07 185.64 L93.95 183.68 L94.85 181.73 L95.79 179.79 L96.76 177.87 L97.75 175.96 L98.76 174.06 L99.79 172.17 L100.84 170.29 L101.9 168.42 L102.98 166.56 L104.08 164.7 L105.2 162.86 L106.33 161.03 L107.48 159.21 L108.64 157.4 L109.81 155.59 L111.01 153.8 L112.24 152.04 L113.52 150.31 L114.87 148.64 L116.26 146.99 L117.65 145.35 L119.02 143.68 L120.35 141.99 L121.67 140.28 L122.99 138.58 L124.34 136.9 L124.69 136.49" fill="none" stroke="#0000ff" stroke-width="1.0"/><path d="M126.16 132.26V137.46M132.74 126.03V130.8M139.32 120.79V125.34M145.9 115.4V120.16M152.48 110.79V115.17M159.06 106.97V111.25M165.64 103.15V107.45M172.22 99.98V104.08M178.8 97.15V101.28M185.38 94.4V98.49M191.96 91.89V96.12M198.54 89.66V94.01M205.12 87.74V92.19M211.7 86.03V90.59M218.28 84.44V89.12M224.86 82.91V87.72M231.44 81.46V86.39M238.02 80.13V85.17M244.6 78.99V84.06M251.18 77.98V83.03M257.76 77.01V82.06M264.34 76.03V81.08M270.92 75.08V80.13M277.5 74.14V79.19M284.08 73.17V78.22M290.66 72.18V77.23M297.24 71.24V76.29M303.82 70.38V75.47M310.4 69.57V74.73M316.98 68.81V74.05M323.56 68.08V73.41M330.14 67.39V72.79M336.72 66.73V72.21M343.3 66.14V71.62M349.88 65.61V71.01M356.46 65.1V70.41M363.04 64.6V69.83M369.62 64.12V69.27M376.2 63.69V68.75M382.78 63.22V68.28M389.36 62.73V67.88M395.94 62.29V67.54M402.52 61.93V67.22M409.1 61.65V66.91M415.68 61.41V66.62M422.26 61.19V66.38M428.84 61.02V66.16M435.42 60.85V65.96M442 60.71V65.78M448.58 60.59V65.62" fill="none" stroke="#0000ff" stroke-width="1.4"/>
<path d="M50 230.3H53.4" stroke="#ff9100" stroke-width="1" fill="none"/>
<path d="M56.6 225.1V236.1M139.4 75.9V84.3M169.5 68.8V77.2M107.4 98.5V106.9M73.3 185.8V194.8" stroke="#ff0000" stroke-width="2" stroke-linecap="round" fill="none"/>
<circle cx="49.1" cy="236.4" r="2.9" fill="#ff0000"/>
<circle cx="56.6" cy="230.6" r="2.9" fill="#ff0000"/>
<circle cx="62.8" cy="222.4" r="2.9" fill="#ff0000"/>
<circle cx="67.3" cy="212.4" r="2.9" fill="#ff0000"/>
<circle cx="70.7" cy="202" r="2.9" fill="#ff0000"/>
<circle cx="73.3" cy="190.3" r="2.9" fill="#ff0000"/>
<circle cx="76" cy="177" r="2.9" fill="#ff0000"/>
<circle cx="79.7" cy="163.6" r="2.9" fill="#ff0000"/>
<circle cx="83.7" cy="149.6" r="2.9" fill="#ff0000"/>
<circle cx="94.9" cy="119.4" r="2.9" fill="#ff0000"/>
<circle cx="107.4" cy="102.7" r="2.9" fill="#ff0000"/>
<circle cx="117.4" cy="95.3" r="2.9" fill="#ff0000"/>
<circle cx="139.4" cy="80" r="2.9" fill="#ff0000"/>
<circle cx="169.5" cy="73" r="2.9" fill="#ff0000"/>
<circle cx="49.1" cy="243.6" r="2.9" fill="#ff0000"/>
<circle cx="56.6" cy="239.8" r="2.9" fill="#ff0000"/>
<circle cx="62.8" cy="236.2" r="2.9" fill="#ff0000"/>
<circle cx="67.3" cy="232.3" r="2.9" fill="#ff0000"/>
<circle cx="70.7" cy="228.8" r="2.9" fill="#ff0000"/>
<circle cx="73.3" cy="225.3" r="2.9" fill="#ff0000"/>
<circle cx="76" cy="221" r="2.9" fill="#ff0000"/>
<circle cx="79.7" cy="213.9" r="2.9" fill="#ff0000"/>
<circle cx="83.7" cy="206" r="2.9" fill="#ff0000"/>
<circle cx="94.9" cy="181" r="2.9" fill="#ff0000"/>
<circle cx="107.4" cy="159" r="2.9" fill="#ff0000"/>
<circle cx="117.4" cy="144" r="2.9" fill="#ff0000"/>
<circle cx="139.4" cy="120.5" r="2.9" fill="#ff0000"/>
<circle cx="169.5" cy="99.7" r="2.9" fill="#ff0000"/>
</g>
<path d="M45.6 250.1V1.1H455.2V250.1Z" stroke="#000" stroke-width="1.6" fill="none" stroke-linejoin="round"/>
<path d="M45.9 237.8v1.6M45.9 241v1.6M45.9 245.4v1.6" stroke="#0000ff" stroke-width="1.3" fill="none"/>
<path d="M431 16.05H455.2" stroke="#000" stroke-width="2.1" fill="none"/>
<g fill="none">
<path d="M338.8 159.5H365.8M338.8 164.3H365.8M345 159.5V164.3M354 159.5V164.3M363 159.5V164.3" stroke="#ff9100" stroke-width="1.2"/>
<path d="M338.8 184.8H366.5M338.8 189.7H366.5" stroke="#0000ff" stroke-width="1.4"/>
<path d="M341 184.8V189.7M345.15 184.8V189.7M349.3 184.8V189.7M353.45 184.8V189.7M357.6 184.8V189.7M361.75 184.8V189.7M365.9 184.8V189.7" stroke="#0000ff" stroke-width="1.9"/>
</g>
<circle cx="352.3" cy="212.3" r="2.9" fill="#ff0000"/>
<g font-family="Liberation Sans, sans-serif" font-size="17.6" fill="#000">
<text x="38.4" y="212.3" text-anchor="end">1</text>
<text x="38.4" y="167.4" text-anchor="end">2</text>
<text x="38.4" y="122.5" text-anchor="end">3</text>
<text x="38.4" y="77.6" text-anchor="end">4</text>
<text x="38.4" y="32.7" text-anchor="end">5</text>
<text x="458.8" y="182.1">5</text>
<text x="458.8" y="107.1">10</text>
<text x="458.8" y="32.1">15</text>
<text x="95.4" y="271.9" text-anchor="middle">200</text>
<text x="185.4" y="271.9" text-anchor="middle">400</text>
<text x="275.4" y="271.9" text-anchor="middle">600</text>
<text x="365.4" y="271.9" text-anchor="middle">800</text>
<text x="455.4" y="271.9" text-anchor="middle">1000</text>
<text x="219.8" y="295.5"><tspan font-style="italic">T</tspan><tspan dx="-0.6"> </tspan><tspan font-size="15.8" dy="-0.9">[</tspan><tspan dx="0.3" dy="0.9">MeV</tspan><tspan font-size="15.8" dx="0.3" dy="-0.9">]</tspan></text>
<text x="407" y="27.1">SB</text>
<text x="374.6" y="167.9" font-size="18"><tspan font-style="italic">N</tspan><tspan font-size="10.8" dx="0.8" dy="2.7">t</tspan><tspan dx="1.2" dy="-2.7">=6</tspan></text>
<text x="374.6" y="193.2" font-size="18"><tspan font-style="italic">N</tspan><tspan font-size="10.8" dx="0.8" dy="2.7">t</tspan><tspan dx="1.2" dy="-2.7">=8</tspan></text>
<text x="374.6" y="218.5" font-size="18"><tspan font-style="italic">N</tspan><tspan font-size="10.8" dx="0.8" dy="2.7">t</tspan><tspan dx="1.2" dy="-2.7">=10</tspan></text>
<text x="104" y="66.7" font-size="20"><tspan font-style="italic">ε</tspan><tspan dx="0.3">(</tspan><tspan font-style="italic">T</tspan><tspan dx="0.4">)</tspan></text>
<text x="160" y="134.2" font-size="20"><tspan font-style="italic">p</tspan><tspan dx="0.4">(</tspan><tspan font-style="italic">T</tspan><tspan dx="0.4">)</tspan></text>
<text transform="translate(16.5 150.9) rotate(-90)" font-size="17.95"><tspan font-style="italic">p</tspan>(<tspan font-style="italic">T</tspan>)/<tspan font-style="italic">T</tspan><tspan font-size="10.6" dx="2.4" dy="-8.7">4</tspan></text>
<text transform="translate(487.1 103.3) rotate(90)" font-size="17.95"><tspan font-style="italic">ε</tspan>(<tspan font-style="italic">T</tspan>)/<tspan font-style="italic">T</tspan><tspan font-size="10.6" dx="2.4" dy="-8.7">4</tspan></text>
</g>
</svg>
</body></html>
